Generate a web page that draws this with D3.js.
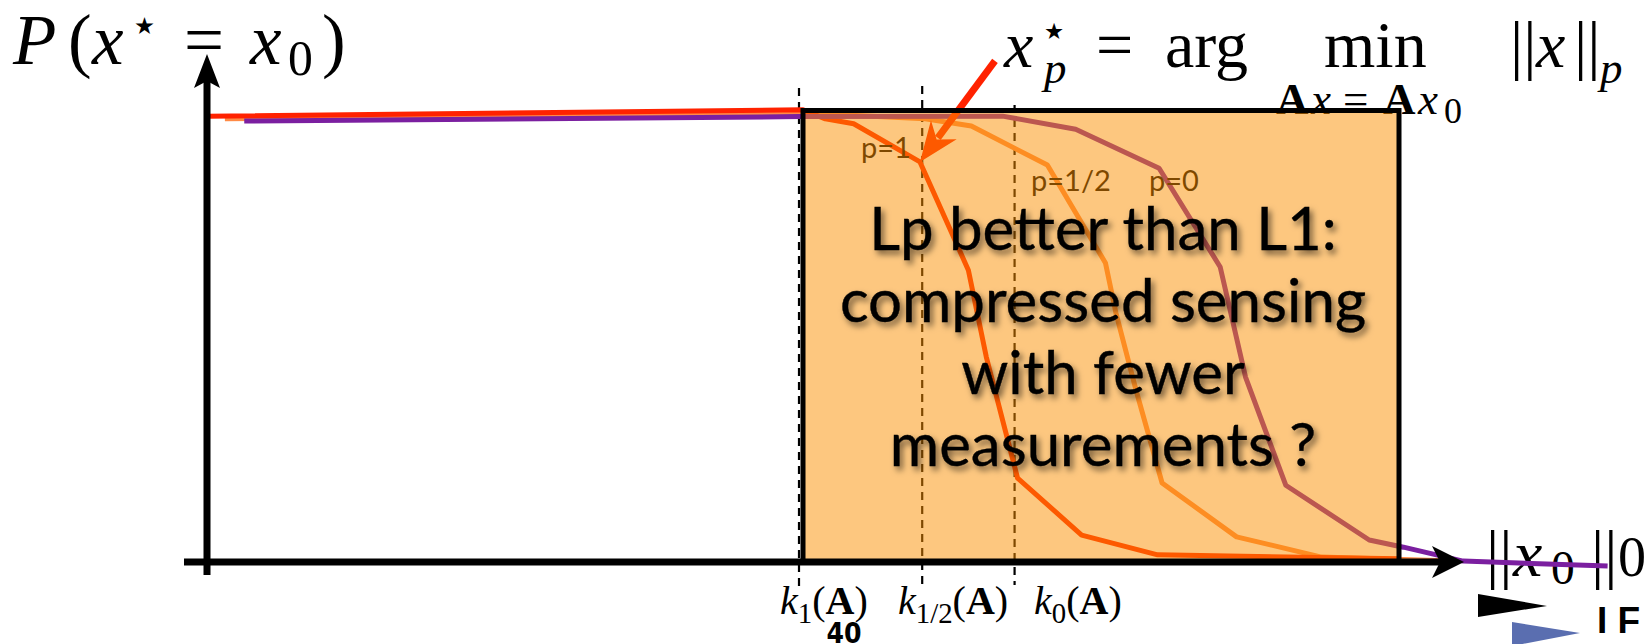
<!DOCTYPE html>
<html>
<head>
<meta charset="utf-8">
<script src="https://cdn.jsdelivr.net/npm/d3@7"></script>
<style>
  html, body { margin: 0; padding: 0; background: #fff; overflow: hidden; }
  svg { display: block; }
</style>
</head>
<body>
<svg id="chart" width="1644" height="644"></svg>
<script>
// Probability of exact recovery P(x* = x0) against the sparsity ||x0||_0,
// for Lp minimisation with p = 1, 1/2 and 0.

// p = 1
const sparsityP1 = [0, 40, 41.5, 43.4, 47.85, 51.1, 52.3, 54.4, 58.7, 63.8, 80];
const probP1     = [0.993, 1.007, 0.987, 0.976, 0.891, 0.650, 0.457, 0.187, 0.060, 0.016, 0.007];
// p = 1/2
const sparsityPHalf = [1.2, 40, 48.2, 51.3, 56.4, 60.3, 61.0, 62.35, 64.1, 69.1, 74.8, 83.6];
const probPHalf     = [0.987, 1.0, 0.987, 0.971, 0.884, 0.666, 0.555, 0.383, 0.176, 0.056, 0.011, 0.002];
// p = 0
const sparsityP0 = [2.5, 39.8, 53.4, 58.3, 63.9, 68.0, 69.7, 72.4, 78.0, 80.3, 84.3, 94.0];
const probP0     = [0.982, 0.992, 0.993, 0.964, 0.877, 0.657, 0.412, 0.171, 0.049, 0.033, 0.002, -0.009];

// critical sparsity levels k_p(A)
const thresholdSubs   = ["1", "1/2", "0"];
const thresholdValues = [40, 48, 54.2];
const k1Value = "40";

// highlighted region of sparsities
const regionRange = [40, 80];

// statement shown in the highlighted region
const regionLines = ["Lp better than L1:", "compressed sensing", "with fewer", "measurements ?"];
const curveLabels = ["p=1", "p=1/2", "p=0"];

const svg = d3.select("#chart");
const serif = "'Liberation Serif', 'Times New Roman', serif";
const sans = "Lato, 'Open Sans', sans-serif";

const x = d3.scaleLinear().domain([0, 80]).range([207, 1399]);
const y = d3.scaleLinear().domain([0, 1]).range([562, 113]);

const defs = svg.append("defs");
const shadow = defs.append("filter").attr("id", "textShadow")
  .attr("x", "-10%").attr("y", "-40%").attr("width", "125%").attr("height", "190%");
shadow.append("feDropShadow").attr("dx", 3).attr("dy", 4).attr("stdDeviation", 3)
  .attr("flood-color", "#000").attr("flood-opacity", 0.55);

// math-style text built from tspans (italic variables, sub/superscripts)
function mathText(parent, px, py, size, parts, subShift = 0.16) {
  const t = parent.append("text").attr("x", px).attr("y", py)
    .attr("font-family", serif).attr("font-size", size).attr("fill", "#000");
  let shift = 0;
  parts.forEach(p => {
    const target = p.pos === "sub" ? size * subShift : p.pos === "sup" ? -size * 0.42 : 0;
    const sp = t.append("tspan").text(p.t).attr("dy", target - shift);
    shift = target;
    if (p.x != null) sp.attr("x", p.x);
    if (p.pos || p.scale) sp.attr("font-size", size * (p.scale || 0.68));
    if (p.s === "i") sp.attr("font-style", "italic");
    if (p.s === "b") sp.attr("font-weight", "bold");
    if (p.font) sp.attr("font-family", p.font);
  });
  return t;
}

const under = svg.append("g");   // everything seen through the tinted region

// y label
mathText(under, 13, 64, 71, [
  { t: "P", s: "i", x: 13 }, { t: "(", x: 68 }, { t: "x", s: "i", x: 92 },
  { t: "\u2605", pos: "sup", x: 134, font: "'DejaVu Sans', sans-serif", scale: 0.33 },
  { t: "=", x: 184 }, { t: "x", s: "i", x: 250 }, { t: "0", pos: "sub", x: 288, scale: 0.7 }, { t: ")", x: 322 }
]);

// estimator formula
mathText(under, 1006, 67, 66, [
  { t: "x", s: "i", x: 1004 },
  { t: "\u2605", pos: "sup", x: 1044, font: "'DejaVu Sans', sans-serif", scale: 0.34 },
  { t: "p", s: "i", pos: "sub", x: 1044 },
  { t: "=", x: 1096 }, { t: "arg", x: 1165 }, { t: "min", x: 1324 },
  { t: "||", x: 1510 }, { t: "x", s: "i", x: 1536 }, { t: "||", x: 1574 },
  { t: "p", s: "i", pos: "sub", x: 1600 }
], 0.24);
mathText(under, 1277, 114, 45, [
  { t: "A", s: "b", x: 1276 }, { t: "x", s: "i", x: 1311 }, { t: "=", x: 1343 },
  { t: "A", s: "b", x: 1383 }, { t: "x", s: "i", x: 1418 }, { t: "0", pos: "sub", x: 1444, scale: 0.8 }
], 0.2);

// x label
mathText(under, 1488, 576, 66, [
  { t: "||", x: 1486 }, { t: "x", s: "i", x: 1513 }, { t: "0", pos: "sub", x: 1551, scale: 0.72 },
  { t: "||", x: 1591 }, { t: "0", x: 1618, scale: 0.85 }
], 0.12);

// dashed markers at the critical sparsities
const dashTop = [88, 86, 105];
const dashBottom = [586, 588, 585];
const dashShift = [-4, 0, 0];
under.selectAll("line.kmark").data(thresholdValues).join("line")
  .attr("class", "kmark")
  .attr("x1", (d, i) => x(d) + dashShift[i]).attr("x2", (d, i) => x(d) + dashShift[i])
  .attr("y1", (d, i) => dashTop[i]).attr("y2", (d, i) => dashBottom[i])
  .attr("stroke", "#000").attr("stroke-width", 2.2).attr("stroke-dasharray", "8,6");

// curves
const series = [
  { ks: sparsityPHalf, ps: probPHalf, color: "#ff8a45" },
  { ks: sparsityP1, ps: probP1, color: "#ff2200" },
  { ks: sparsityP0, ps: probP0, color: "#7b1fa0" }
];
const line = d3.line().x(d => x(d[0])).y(d => y(d[1]));
under.selectAll("path.curve").data(series).join("path")
  .attr("class", "curve")
  .attr("d", s => line(s.ks.map((k, i) => [k, s.ps[i]])))
  .attr("fill", "none").attr("stroke", s => s.color)
  .attr("stroke-width", 5).attr("stroke-linejoin", "round");

// arrow pointing at the p=1 knee
const knee = [x(sparsityP1[4]), y(probP1[4])];
const tail = [knee[0] + 75, knee[1] - 101];
const ang = Math.atan2(knee[1] - tail[1], knee[0] - tail[0]);
const headLen = 34, headHalf = 16;
const base = [knee[0] - headLen * Math.cos(ang), knee[1] - headLen * Math.sin(ang)];
under.append("line")
  .attr("x1", tail[0]).attr("y1", tail[1]).attr("x2", base[0] + 4 * Math.cos(ang)).attr("y2", base[1] + 4 * Math.sin(ang))
  .attr("stroke", "#ff2200").attr("stroke-width", 7);
under.append("path")
  .attr("d", d3.line()([
    knee,
    [base[0] + headHalf * Math.sin(ang) - 6 * Math.cos(ang), base[1] - headHalf * Math.cos(ang) - 6 * Math.sin(ang)],
    [base[0] + 6 * Math.cos(ang), base[1] + 6 * Math.sin(ang)],
    [base[0] - headHalf * Math.sin(ang) - 6 * Math.cos(ang), base[1] + headHalf * Math.cos(ang) - 6 * Math.sin(ang)]
  ]) + "Z")
  .attr("fill", "#ff2200");

// curve labels
const labelPos = [[861, 158], [1031, 191], [1149, 191]];
under.selectAll("text.plabel").data(curveLabels).join("text")
  .attr("class", "plabel")
  .attr("x", (d, i) => labelPos[i][0]).attr("y", (d, i) => labelPos[i][1])
  .attr("font-family", sans).attr("font-size", 29).attr("fill", "#000")
  .text(d => d);

// tinted region
svg.append("rect")
  .attr("x", x(regionRange[0])).attr("y", y(1) - 2.5)
  .attr("width", x(regionRange[1]) - x(regionRange[0]))
  .attr("height", y(0) - y(1) + 2.5)
  .attr("fill", "#fb8f00").attr("fill-opacity", 0.5);
svg.append("rect")
  .attr("x", x(regionRange[0])).attr("y", y(1) - 2.5)
  .attr("width", x(regionRange[1]) - x(regionRange[0]))
  .attr("height", y(0) - y(1) + 2.5)
  .attr("fill", "none").attr("stroke", "#000").attr("stroke-width", 5);

// axes with arrow heads
const axes = svg.append("g");
axes.append("line").attr("x1", x(0)).attr("x2", x(0)).attr("y1", 575).attr("y2", 78)
  .attr("stroke", "#000").attr("stroke-width", 7);
axes.append("path")
  .attr("d", `M${x(0)},54 L${x(0) + 13},88 L${x(0)},81 L${x(0) - 13},88 Z`).attr("fill", "#000");
axes.append("line").attr("x1", 184).attr("x2", 1442).attr("y1", y(0)).attr("y2", y(0))
  .attr("stroke", "#000").attr("stroke-width", 7);
axes.append("path")
  .attr("d", `M1464,${y(0)} L1432,${y(0) - 16} L1440,${y(0)} L1432,${y(0) + 16} Z`).attr("fill", "#000");

// critical sparsity labels
const kLabelX = [780, 898, 1034];
thresholdSubs.forEach((s, i) => {
  mathText(svg, kLabelX[i], 614, 40, [
    { t: "k", s: "i" }, { t: s, pos: "sub", scale: 0.72 }, { t: "(" }, { t: "A", s: "b" }, { t: ")" }
  ], 0.22);
});
svg.append("text").attr("x", x(thresholdValues[0]) + 41).attr("y", 643)
  .attr("text-anchor", "middle")
  .attr("font-family", "'Liberation Sans Narrow', 'DejaVu Sans Condensed', sans-serif")
  .attr("font-stretch", "condensed").attr("font-weight", "bold")
  .attr("font-size", 28).attr("fill", "#000").text(k1Value);

// statement
svg.append("g").attr("filter", "url(#textShadow)")
  .selectAll("text").data(regionLines).join("text")
  .attr("x", 1103).attr("y", (d, i) => 250 + i * 72)
  .attr("text-anchor", "middle")
  .attr("font-family", sans).attr("font-size", 60).attr("fill", "#000")
  .attr("stroke", "#000").attr("stroke-width", 0.4)
  .text(d => d);

// navigation marks
svg.append("path").attr("d", "M1478,594 L1547,606 L1478,617 Z").attr("fill", "#000");
svg.append("path").attr("d", "M1512,622 L1580,633 L1512,646 Z").attr("fill", "#5a6eb0");
svg.append("text").attr("x", 1597).attr("y", 633)
  .attr("font-family", "'Liberation Sans', sans-serif").attr("font-weight", "bold")
  .attr("font-size", 37).attr("fill", "#000").text("I F");
</script>
</body>
</html>
